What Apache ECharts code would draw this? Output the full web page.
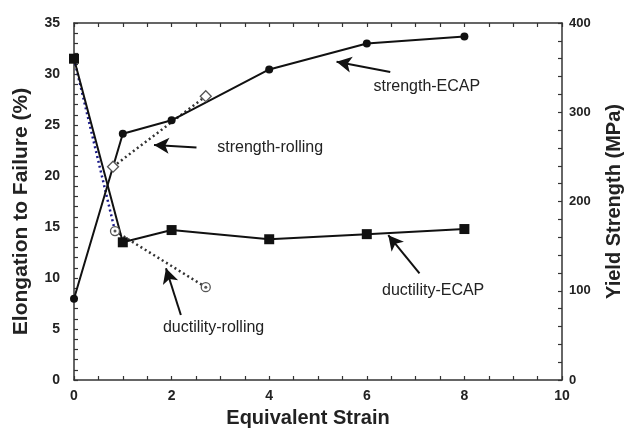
<!DOCTYPE html>
<html><head><meta charset="utf-8">
<script src="https://cdn.jsdelivr.net/npm/echarts@6/dist/echarts.min.js"></script>
<style>html,body{margin:0;padding:0;background:#fff}#c{width:624px;height:432px}</style>
</head><body><div id="c"></div>
<script>
// ECAP data
const ecapStrain = [0, 1, 2, 4, 6, 8];
const ecapDuctility = [31.5, 13.5, 14.7, 13.8, 14.3, 14.8];      // %
const ecapStrength = [91, 276, 291, 348, 377, 385];              // MPa
// Rolling data
const rollDuctStrain = [0, 0.84, 2.7];
const rollDuctility = [31.5, 14.6, 9.1];                          // %
const rollStrStrain = [0.8, 2.7];
const rollStrength = [239, 318];                                  // MPa
// axis ticks
const xTicks = [0, 2, 4, 6, 8, 10];
const yLeftTicks = [0, 5, 10, 15, 20, 25, 30, 35];
const yRightTicks = [0, 100, 200, 300, 400];
// annotations (label, label position, arrow tail, arrow tip) in left-axis data units
const noteText = ['strength-ECAP', 'strength-rolling', 'ductility-rolling', 'ductility-ECAP'];
const notePos = [[7.23, 28.75], [4.02, 22.75], [2.86, 5.17], [7.36, 8.75]];
const arrowTail = [[6.48, 30.2], [2.51, 22.8], [2.19, 6.37], [7.08, 10.46]];
const arrowTip = [[5.38, 31.2], [1.64, 23.05], [1.885, 10.95], [6.44, 14.2]];

const zip = (a, b) => a.map((v, i) => [v, b[i]]);
const FONT = 'Liberation Sans, Arial, sans-serif';
const chart = echarts.init(document.getElementById('c'), null, {renderer: 'canvas'});

const tickLabel = list => v => (list.indexOf(v) >= 0 ? String(v) : '');
const axisLine = {show: true, onZero: false, lineStyle: {color: '#333', width: 1.5}};
const axisTick = {show: true, inside: true, length: 4, lineStyle: {color: '#333', width: 1.2}};
const labelBase = {color: '#222', fontFamily: FONT, fontWeight: 'bold', fontSize: 14, showMinLabel: true, showMaxLabel: true};
const nameStyle = {fontFamily: FONT, fontWeight: 'bold', fontSize: 20, color: '#222'};

const dotted = [2, 3];

chart.setOption({
  animation: false,
  backgroundColor: '#fff',
  grid: {left: 74, right: 62, top: 23, bottom: 52, containLabel: false, outerBoundsMode: 'none'},
  xAxis: [
    {
      type: 'value', min: 0, max: 10, interval: 0.5, position: 'bottom',
      axisLine, axisTick, splitLine: {show: false},
      axisLabel: Object.assign({}, labelBase, {margin: 9, formatter: tickLabel(xTicks)}),
      name: 'Equivalent Strain', nameLocation: 'middle', nameGap: 28,
      nameTextStyle: Object.assign({}, nameStyle, {padding: [0, 20, 0, 0]})
    },
    {
      type: 'value', min: 0, max: 10, interval: 0.5, position: 'top',
      axisLine, axisTick, splitLine: {show: false}, axisLabel: {show: false}
    }
  ],
  yAxis: [
    {
      type: 'value', min: 0, max: 35, interval: 1, position: 'left',
      axisLine, axisTick, splitLine: {show: false},
      axisLabel: Object.assign({}, labelBase, {margin: 14, formatter: tickLabel(yLeftTicks)}),
      name: 'Elongation to Failure (%)', nameLocation: 'middle', nameGap: 42, nameRotate: 90,
      nameTextStyle: Object.assign({}, nameStyle, {fontSize: 21, padding: [0, 20, 0, 0]})
    },
    {
      type: 'value', min: 0, max: 400, interval: 20, position: 'right',
      axisLine, axisTick, splitLine: {show: false},
      axisLabel: Object.assign({}, labelBase, {margin: 7, fontSize: 13, formatter: tickLabel(yRightTicks)}),
      name: 'Yield Strength (MPa)', nameLocation: 'middle', nameGap: 42, nameRotate: 90,
      nameTextStyle: Object.assign({}, nameStyle, {fontSize: 20})
    }
  ],
  series: [
    {
      name: 'ductility-rolling-blue', type: 'line', yAxisIndex: 0,
      data: zip(rollDuctStrain.slice(0, 2), rollDuctility.slice(0, 2)),
      symbol: 'none', lineStyle: {color: '#1c1c8a', width: 2.5, type: dotted}, z: 2
    },
    {
      name: 'ductility-rolling', type: 'line', yAxisIndex: 0,
      data: zip(rollDuctStrain.slice(1), rollDuctility.slice(1)),
      symbol: 'none', lineStyle: {color: '#333', width: 2.5, type: dotted}, z: 2
    },
    {
      name: 'ductility-rolling-marker', type: 'scatter', yAxisIndex: 0,
      data: zip(rollDuctStrain.slice(1), rollDuctility.slice(1)),
      symbol: 'circle', symbolSize: 9,
      itemStyle: {color: '#fff', borderColor: '#555', borderWidth: 1.3, opacity: 1}, z: 5
    },
    {
      name: 'ductility-rolling-dot', type: 'scatter', yAxisIndex: 0,
      data: zip(rollDuctStrain.slice(1), rollDuctility.slice(1)),
      symbol: 'circle', symbolSize: 3, itemStyle: {color: '#555', opacity: 1}, z: 6
    },
    {
      name: 'strength-rolling', type: 'line', yAxisIndex: 1,
      data: zip(rollStrStrain, rollStrength),
      symbol: 'none', lineStyle: {color: '#333', width: 2.5, type: dotted}, z: 2
    },
    {
      name: 'strength-rolling-marker', type: 'scatter', yAxisIndex: 1,
      data: zip(rollStrStrain, rollStrength),
      symbol: 'diamond', symbolSize: 11,
      itemStyle: {color: '#fff', borderColor: '#555', borderWidth: 1.3, opacity: 1}, z: 5
    },
    {
      name: 'ductility-ECAP', type: 'line', yAxisIndex: 0,
      data: zip(ecapStrain, ecapDuctility),
      symbol: 'rect', symbolSize: 10, itemStyle: {color: '#111'},
      lineStyle: {color: '#111', width: 2}, z: 4,
      markLine: {
        silent: true, symbol: ['none', 'arrow'], symbolSize: [12, 15],
        label: {show: false},
        lineStyle: {color: '#111', width: 2, type: 'solid'},
        data: arrowTail.map((t, i) => [{coord: t}, {coord: arrowTip[i]}])
      },
      markPoint: {
        silent: true, symbol: 'circle', symbolSize: 1,
        itemStyle: {color: 'rgba(0,0,0,0)'},
        label: {show: true, position: 'inside', color: '#222', fontFamily: FONT, fontSize: 16,
          formatter: p => p.name},
        data: noteText.map((n, i) => ({name: n, coord: notePos[i]}))
      }
    },
    {
      name: 'strength-ECAP', type: 'line', yAxisIndex: 1,
      data: zip(ecapStrain, ecapStrength),
      symbol: 'circle', symbolSize: 8, itemStyle: {color: '#111'},
      lineStyle: {color: '#111', width: 2}, z: 4
    }
  ]
});
</script></body></html>
